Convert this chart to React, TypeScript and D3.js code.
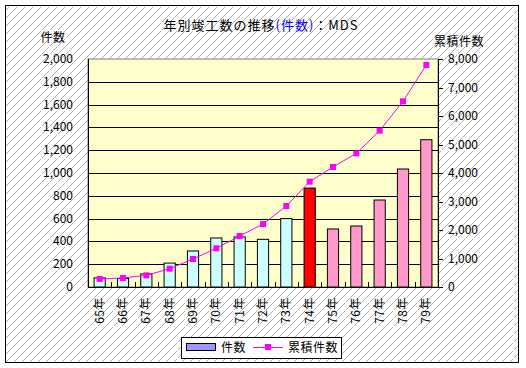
import * as d3 from 'd3';

const years = ['65年', '66年', '67年', '68年', '69年', '70年', '71年', '72年', '73年', '74年', '75年', '76年', '77年', '78年', '79年'];
const counts = [80, 75, 115, 210, 316, 430, 439, 418, 600, 868, 509, 535, 763, 1035, 1292];
const cumulative = [281, 316, 409, 643, 982, 1357, 1789, 2210, 2842, 3696, 4211, 4690, 5485, 6515, 7789];
// 実績 / 当年 / 予測
const phase = ['past', 'past', 'past', 'past', 'past', 'past', 'past', 'past', 'past', 'now', 'plan', 'plan', 'plan', 'plan', 'plan'];
const leftTicks = [0, 200, 400, 600, 800, 1000, 1200, 1400, 1600, 1800, 2000];
const rightTicks = [0, 1000, 2000, 3000, 4000, 5000, 6000, 7000, 8000];

const W = 526;
const H = 368;
const plot = { left: 88, top: 59, right: 438, bottom: 287 };
const font = '"Noto Sans CJK JP", "Noto Sans", sans-serif';
const phaseColor: Record<string, string> = { past: '#CCFFFF', now: '#FF0000', plan: '#FF99CC' };

export default function App() {
  const x = d3.scaleBand<string>().domain(years).range([plot.left, plot.right]);
  const yL = d3.scaleLinear().domain([0, 2000]).range([plot.bottom, plot.top]);
  const yR = d3.scaleLinear().domain([0, 8000]).range([plot.bottom, plot.top]);
  const fmt = d3.format(',');
  const barW = x.bandwidth() * 0.48;
  const cx = (d: string) => (x(d) ?? 0) + x.bandwidth() / 2;

  const line = d3.line<number>()
    .x((_, i) => cx(years[i]))
    .y((d) => yR(d));

  return (
    <svg width={W} height={H} style={{ position: 'absolute', left: 0, top: 0 }} fontFamily={font}>
      <defs>
        <pattern id="hatch" width="8" height="8" patternUnits="userSpaceOnUse">
          <rect width="8" height="8" fill="#fff" />
          <path d="M0,8 L8,0" stroke="#b0b0b0" strokeWidth="1" strokeDasharray="2 1" shapeRendering="crispEdges" />
        </pattern>
      </defs>
      <rect x={0} y={0} width={W} height={H} fill="#fff" />
      <rect x={5.5} y={5.5} width={513} height={357} fill="url(#hatch)" stroke="#000" strokeWidth={1} />

      {/* title */}
      <text x={261} y={30} textAnchor="middle" fontSize={13} letterSpacing={1}>
        年別竣工数の推移<tspan fill="#0000FF">(件数)</tspan>：MDS
      </text>
      <text x={53} y={42} textAnchor="middle" fontSize={12} letterSpacing={0.5}>件数</text>
      <text x={459} y={46} textAnchor="middle" fontSize={12} letterSpacing={0.5}>累積件数</text>

      {/* plot area */}
      <rect x={plot.left} y={plot.top} width={plot.right - plot.left} height={plot.bottom - plot.top} fill="#FFFFCC" stroke="#808080" />
      {leftTicks.slice(1, -1).map((t) => (
        <line key={t} x1={plot.left} x2={plot.right} y1={Math.round(yL(t)) + 0.5} y2={Math.round(yL(t)) + 0.5} stroke="#000" />
      ))}

      {/* bars */}
      {years.map((d, i) => (
        <rect key={d} x={cx(d) - barW / 2} y={yL(counts[i])} width={barW} height={plot.bottom - yL(counts[i])}
          fill={phaseColor[phase[i]]} stroke="#000" strokeWidth={1} />
      ))}

      {/* axes */}
      <line x1={plot.left + 0.5} x2={plot.left + 0.5} y1={plot.top} y2={plot.bottom} stroke="#000" />
      <line x1={plot.right + 0.5} x2={plot.right + 0.5} y1={plot.top} y2={plot.bottom} stroke="#000" />
      <line x1={plot.left} x2={plot.right + 1} y1={plot.bottom + 0.5} y2={plot.bottom + 0.5} stroke="#000" />
      {years.slice(1).map((d) => (
        <line key={d} x1={Math.round(x(d) ?? 0) + 0.5} x2={Math.round(x(d) ?? 0) + 0.5} y1={plot.bottom - 5} y2={plot.bottom} stroke="#000" />
      ))}
      {rightTicks.map((t) => (
        <line key={t} x1={plot.right} x2={plot.right + 5} y1={Math.round(yR(t)) + 0.5} y2={Math.round(yR(t)) + 0.5} stroke="#000" />
      ))}

      {/* tick labels */}
      {leftTicks.map((t) => (
        <text key={t} x={73} y={yL(t) + 4} textAnchor="end" fontSize={12}>{fmt(t)}</text>
      ))}
      {rightTicks.map((t) => (
        <text key={t} x={448} y={yR(t) + 4} textAnchor="start" fontSize={12}>{fmt(t)}</text>
      ))}
      {years.map((d) => (
        <text key={d} transform={`translate(${cx(d) + 4},${plot.bottom + 10}) rotate(-90)`} textAnchor="end" fontSize={12} letterSpacing={0.5}>{d}</text>
      ))}

      {/* cumulative line */}
      <path d={line(cumulative) ?? ''} fill="none" stroke="#FF00FF" strokeWidth={1} />
      {cumulative.map((v, i) => (
        <rect key={i} x={cx(years[i]) - 3} y={yR(v) - 3} width={6} height={6} fill="#FF00FF" />
      ))}

      {/* legend */}
      <rect x={181.5} y={337.5} width={160} height={21} fill="#fff" stroke="#000" />
      <rect x={186.5} y={343.5} width={29} height={7} fill="#9999FF" stroke="#000" />
      <text x={221} y={352} fontSize={12} letterSpacing={0.5}>件数</text>
      <line x1={253} x2={283} y1={347.5} y2={347.5} stroke="#FF00FF" />
      <rect x={265} y={344} width={6} height={6} fill="#FF00FF" />
      <text x={288} y={352} fontSize={12} letterSpacing={0.5}>累積件数</text>
    </svg>
  );
}
